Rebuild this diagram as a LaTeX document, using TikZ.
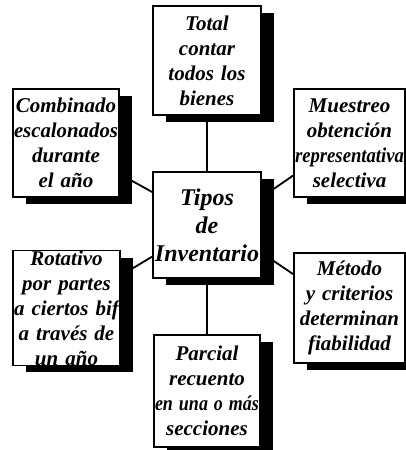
\documentclass[tikz,border=0pt]{standalone}
\usepackage{fontspec}
\setmainfont{Liberation Serif}
\usetikzlibrary{shadows}
\tikzset{
  box/.style={draw=black, line width=1.8pt, fill=white, inner sep=0pt,
    align=center, text width=#1,
    font=\bfseries\itshape\fontsize{21}{25}\selectfont,
    general shadow={fill=black, shadow xshift=13pt, shadow yshift=-7pt}},
  conn/.style={line width=1.8pt, black},
}
\newlength{\fitlen}
\newcommand{\ctl}[2]{\settowidth{\fitlen}{#2}%
  \ifdim\fitlen>#1\relax
    \pgfmathsetmacro\fitr{#1/\fitlen}%
    \makebox[#1][c]{\scalebox{\fitr}[1]{#2}}%
  \else\makebox[#1][c]{#2}\fi}
\begin{document}
\begin{tikzpicture}[x=1pt,y=-1pt]
\clip (0,0) rectangle (406,450);
\fill[white] (0,0) rectangle (406,450);
% boxes
\node[box=104pt, minimum width=108pt, minimum height=109pt] (tot) at (207,60.5)
  {\ctl{104pt}{Total}\\\ctl{104pt}{contar}\\\ctl{104pt}{todos los}\\\ctl{104pt}{bienes}};
\node[box=104pt, minimum width=106pt, minimum height=108pt] (comb) at (66,143)
  {\ctl{104pt}{Combinado}\\\ctl{104pt}{escalonados}\\\ctl{104pt}{durante}\\\ctl{104pt}{el año}};
\node[box=109pt, minimum width=111pt, minimum height=108pt] (mues) at (349.5,143)
  {\ctl{109pt}{Muestreo}\\\ctl{109pt}{obtención}\\\ctl{109pt}{representativa}\\\ctl{109pt}{selectiva}};
\node[box=106pt, minimum width=108pt, minimum height=106pt,
  font=\bfseries\itshape\fontsize{24}{28}\selectfont] (tipo) at (207,225)
  {\ctl{106pt}{Tipos}\\\ctl{106pt}{de}\\\ctl{106pt}{Inventario}};
\node[box=105pt, minimum width=107pt, minimum height=110pt] (rot) at (66.5,308)
  {\ctl{105pt}{Rotativo}\\\ctl{105pt}{por partes}\\\ctl{105pt}{a ciertos bif}\\\ctl{105pt}{a través de}\\\ctl{105pt}{un año}};
\node[box=109pt, minimum width=111pt, minimum height=110pt] (met) at (349.5,308)
  {\ctl{109pt}{Método}\\\ctl{109pt}{y criterios}\\\ctl{109pt}{determinan}\\\ctl{109pt}{fiabilidad}};
\node[box=104pt, minimum width=106pt, minimum height=112pt] (par) at (207,391)
  {\ctl{104pt}{Parcial}\\\ctl{104pt}{recuento}\\\ctl{104pt}{en una o más}\\\ctl{104pt}{secciones}};
% connectors
\draw[conn] (tot.south) -- (tipo.north);
\draw[conn] (tipo.south) -- (par.north);
\draw[conn] (comb.-30.3) -- (tipo.149.35);
\draw[conn] (tipo.27.4) -- (mues.210);
\draw[conn] (rot.31.7) -- (tipo.210.6);
\draw[conn] (tipo.-27.4) -- (met.149.3);
\end{tikzpicture}
\end{document}
